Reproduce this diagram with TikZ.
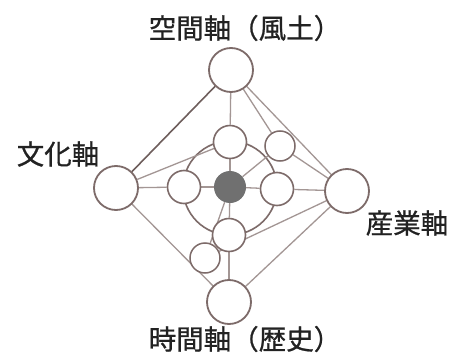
\documentclass[tikz,border=0pt]{standalone}
\usepackage{fontspec}
\newfontfamily\cjk[FakeBold=0.8]{Noto Sans CJK JP}
\usetikzlibrary{backgrounds}
\definecolor{ring}{HTML}{7D6B69}
\definecolor{lnk}{HTML}{A39694}
\definecolor{dlnk}{HTML}{6E5E5C}
\definecolor{core}{HTML}{707070}
\definecolor{txt}{HTML}{222222}
\tikzset{
  bigc/.style={circle,draw=ring,line width=1.8pt,fill=white,minimum size=44pt,inner sep=0pt},
  midc/.style={circle,draw=ring,line width=1.6pt,fill=white,minimum size=33pt,inner sep=0pt},
  smc/.style={circle,draw=ring,line width=1.5pt,fill=white,minimum size=30pt,inner sep=0pt},
  corec/.style={circle,fill=core,minimum size=32pt,inner sep=0pt},
  ringc/.style={circle,draw=ring,line width=1.6pt,minimum size=94pt,inner sep=0pt},
  lk/.style={draw=lnk,line width=1.3pt},
  dlk/.style={draw=dlnk,line width=1.6pt},
  lbl/.style={text=txt,font=\cjk\fontsize{27.5}{30}\selectfont,inner sep=0pt}
}
\begin{document}
\begin{tikzpicture}[x=1pt,y=-1pt]
\useasboundingbox (0,0) rectangle (450,356);
% main nodes
\node[bigc] (T) at (231,70) {};
\node[bigc] (L) at (116,188) {};
\node[bigc] (R) at (347,191) {};
\node[bigc] (B) at (229,302) {};
\node[corec] (C) at (230,187) {};
\node[midc] (Tn) at (230,142) {};
\node[midc] (Ln) at (184,187) {};
\node[midc] (Rn) at (277,189) {};
\node[midc] (Bn) at (229,235) {};
\node[smc] (TR) at (280,146) {};
\node[smc] (BL) at (205,258) {};
\begin{pgfonlayer}{background}
\fill[white] (0,0) rectangle (450,356);
\node[ringc] (ring) at (230,188) {};
\draw[dlk] (T) -- (L);
\draw[lk] (T) -- (R);
\draw[lk] (T) -- (TR);
\draw[lk] (T) -- (Tn);
\draw[lk] (Tn) -- (C);
\draw[lk] (C) -- (Bn);
\draw[lk] (Bn) -- (B);
\draw[lk] (L) -- (Ln);
\draw[lk] (Ln) -- (C);
\draw[lk] (C) -- (Rn);
\draw[lk] (Rn) -- (R);
\draw[lk] (L) -- (Tn);
\draw[lk] (L) -- (B);
\draw[lk] (TR) -- (R);
\draw[lk] (TR) -- (C);
\draw[lk] (C) -- (BL);
\draw[lk] (R) -- (BL);
\draw[lk] (R) -- (B);
\end{pgfonlayer}
% labels
\node[lbl] (tT) at (245,28) {空間軸（風土）};
\node[lbl] (tL) at (58,154) {文化軸};
\node[lbl] (tR) at (407,223) {産業軸};
\node[lbl] (tB) at (245,339) {時間軸（歴史）};
\end{tikzpicture}
\end{document}
